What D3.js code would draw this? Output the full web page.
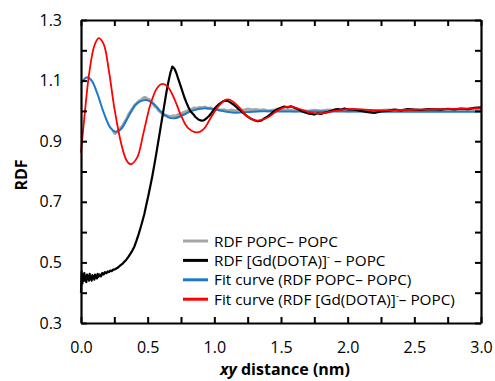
<!DOCTYPE html>
<html>
<head>
<meta charset="utf-8">
<script src="https://cdn.jsdelivr.net/npm/d3@7"></script>
<style>
  body { margin: 0; background: #fff; }
  svg { display: block; font-family: "Open Sans", sans-serif; }
</style>
</head>
<body>
<svg id="chart" width="495" height="381"></svg>
<script>
// =========================
// DADES
// =========================

// RDF POPC – POPC (gris, soroll)
const rdfPopcX = [0.240,0.255,0.270,0.285,0.300,0.315,0.330,0.345,0.360,0.375,0.390,0.405,0.420,0.435,0.450,0.465,0.480,0.495,0.510,0.525,0.540,0.555,0.570,0.585,0.600,0.615,0.630,0.650,0.670,0.690,0.710,0.730,0.750,0.770,0.790,0.810,0.830,0.850,0.870,0.890,0.910,0.930,0.950,0.970,0.990,1.010,1.040,1.070,1.100,1.130,1.160,1.190,1.220,1.250,1.280,1.310,1.340,1.370,1.400,1.450,1.500,1.550,1.600,1.650,1.700,1.750,1.800,1.850,1.900,1.950,2.000,2.100,2.200,2.300,2.400,2.500,2.600,2.700,2.800,2.900,3.000];
const rdfPopcY = [0.935,0.925,0.930,0.935,0.945,0.952,0.965,0.975,0.990,1.000,1.010,1.020,1.025,1.033,1.035,1.042,1.045,1.040,1.038,1.030,1.025,1.015,1.010,1.000,0.995,0.990,0.985,0.984,0.980,0.984,0.982,0.988,0.990,0.995,0.998,1.003,1.005,1.010,1.008,1.012,1.010,1.013,1.008,1.010,1.005,1.006,1.002,1.004,1.000,1.003,1.000,1.004,1.002,1.006,1.003,1.005,1.002,1.004,1.000,1.003,1.001,1.004,1.000,1.002,0.999,1.002,1.000,1.003,1.001,1.003,1.000,1.002,1.000,1.003,1.001,1.003,1.002,1.004,1.003,1.005,1.006];

// RDF [Gd(DOTA)]- – POPC (negre)
const rdfGdX = [0.000,0.005,0.010,0.015,0.020,0.025,0.030,0.035,0.040,0.045,0.050,0.055,0.060,0.065,0.070,0.075,0.080,0.085,0.090,0.095,0.100,0.105,0.110,0.115,0.120,0.125,0.130,0.140,0.150,0.160,0.170,0.180,0.190,0.200,0.210,0.220,0.230,0.240,0.250,0.265,0.280,0.295,0.310,0.325,0.340,0.355,0.370,0.385,0.400,0.415,0.430,0.445,0.460,0.475,0.490,0.505,0.520,0.535,0.550,0.565,0.580,0.595,0.610,0.625,0.640,0.655,0.670,0.685,0.700,0.715,0.730,0.745,0.760,0.775,0.790,0.805,0.820,0.840,0.860,0.880,0.900,0.920,0.940,0.960,0.980,1.000,1.020,1.040,1.060,1.080,1.100,1.120,1.140,1.160,1.180,1.200,1.225,1.250,1.275,1.300,1.325,1.350,1.375,1.400,1.425,1.450,1.475,1.500,1.525,1.550,1.575,1.600,1.625,1.650,1.675,1.700,1.725,1.750,1.775,1.800,1.825,1.850,1.875,1.900,1.925,1.950,1.975,2.000,2.050,2.100,2.150,2.200,2.250,2.300,2.350,2.400,2.450,2.500,2.550,2.600,2.650,2.700,2.750,2.800,2.850,2.900,2.950,3.000];
const rdfGdY = [0.400,0.470,0.430,0.460,0.440,0.465,0.440,0.455,0.435,0.460,0.445,0.455,0.440,0.462,0.445,0.452,0.440,0.458,0.447,0.455,0.443,0.460,0.450,0.456,0.447,0.462,0.452,0.460,0.454,0.465,0.460,0.468,0.464,0.470,0.468,0.473,0.471,0.476,0.476,0.480,0.484,0.490,0.495,0.502,0.509,0.518,0.528,0.539,0.552,0.570,0.590,0.612,0.635,0.660,0.690,0.720,0.752,0.785,0.822,0.860,0.900,0.940,0.980,1.020,1.060,1.095,1.125,1.146,1.140,1.125,1.105,1.085,1.065,1.045,1.028,1.013,1.000,0.990,0.979,0.972,0.968,0.969,0.975,0.983,0.994,1.006,1.016,1.024,1.030,1.034,1.033,1.028,1.022,1.015,1.007,1.000,0.990,0.981,0.974,0.969,0.966,0.968,0.975,0.982,0.990,1.000,1.006,1.010,1.014,1.012,1.015,1.010,1.006,1.000,0.996,0.992,0.990,0.988,0.992,0.990,0.994,0.996,1.000,1.004,1.006,1.004,1.008,1.005,1.004,1.000,0.996,0.993,0.998,1.000,1.004,1.002,1.006,1.004,1.003,1.006,1.005,1.004,1.007,1.005,1.008,1.006,1.010,1.012];

// Fit curve (RDF POPC – POPC) (blau)
const fitPopcX = [0.000,0.045,0.080,0.120,0.170,0.220,0.260,0.300,0.360,0.420,0.485,0.540,0.600,0.660,0.705,0.760,0.830,0.930,1.000,1.080,1.150,1.250,1.350,1.500,2.000,2.500,3.000];
const fitPopcY = [1.091,1.111,1.100,1.060,0.995,0.945,0.931,0.940,0.985,1.025,1.036,1.025,0.997,0.978,0.976,0.985,1.000,1.009,1.006,0.998,0.994,0.996,0.999,0.998,0.998,0.997,0.997];

// Fit curve (RDF [Gd(DOTA)]- – POPC) (vermell)
const fitGdX = [0.000,0.030,0.060,0.100,0.133,0.170,0.210,0.250,0.300,0.340,0.372,0.420,0.470,0.520,0.570,0.610,0.650,0.700,0.750,0.800,0.870,0.920,0.970,1.030,1.090,1.120,1.180,1.240,1.300,1.330,1.400,1.470,1.540,1.600,1.680,1.760,1.820,1.900,2.000,2.100,2.250,2.400,2.600,2.800,3.000];
const fitGdY = [0.862,1.000,1.120,1.215,1.240,1.220,1.130,1.010,0.895,0.838,0.824,0.845,0.930,1.020,1.075,1.089,1.080,1.040,0.985,0.945,0.929,0.940,0.975,1.015,1.037,1.036,1.015,0.985,0.969,0.968,0.978,1.000,1.013,1.012,1.000,0.992,0.993,1.000,1.006,1.005,1.002,1.003,1.005,1.007,1.009];

// Eixos
const xTicks = [0, 0.25, 0.5, 0.75, 1, 1.25, 1.5, 1.75, 2, 2.25, 2.5, 2.75, 3];
const xLabelled = [0, 0.5, 1, 1.5, 2, 2.5, 3];
const yTicks = [0.3, 0.4, 0.5, 0.6, 0.7, 0.8, 0.9, 1.0, 1.1, 1.2, 1.3];
const yLabelled = [0.3, 0.5, 0.7, 0.9, 1.1, 1.3];

const series = [
  { name: "popc", xs: rdfPopcX, ys: rdfPopcY, color: "#a6a6a6", width: 3, smooth: false },
  { name: "fitPopc", xs: fitPopcX, ys: fitPopcY, color: "#1f78c8", width: 2, smooth: true },
  { name: "gd", xs: rdfGdX, ys: rdfGdY, color: "#000000", width: 2.2, smooth: false },
  { name: "fitGd", xs: fitGdX, ys: fitGdY, color: "#ff0000", width: 1.8, smooth: true }
];

// =========================
// DIBUIX
// =========================

const svg = d3.select("#chart");
const margin = { top: 20, right: 14, bottom: 58, left: 81 };
const width = 495 - margin.left - margin.right;
const height = 381 - margin.top - margin.bottom;

const g = svg.append("g").attr("transform", `translate(${margin.left},${margin.top})`);

const x = d3.scaleLinear().domain([0, 3]).range([0, width]);
const y = d3.scaleLinear().domain([0.3, 1.3]).range([height, 0]);

const isIn = (arr, v) => arr.some(a => Math.abs(a - v) < 1e-9);

// línies
series.forEach(s => {
  const pts = s.xs.map((xv, i) => [xv, s.ys[i]]);
  const line = d3.line()
    .x(d => x(d[0]))
    .y(d => y(d[1]))
    .curve(s.smooth ? d3.curveCatmullRom.alpha(0.5) : d3.curveLinear);
  g.append("path")
    .datum(pts)
    .attr("fill", "none")
    .attr("stroke", s.color)
    .attr("stroke-width", s.width)
    .attr("stroke-linejoin", "round")
    .attr("d", line);
});

// eixos (ticks cap a dins)
function styleAxis(sel) {
  sel.select(".domain").attr("stroke", "#000").attr("stroke-width", 2.2);
  sel.selectAll(".tick line").attr("stroke", "#000").attr("stroke-width", 2);
  sel.selectAll(".tick text")
    .style("font-family", "'Open Sans', sans-serif")
    .style("font-size", "16px")
    .attr("fill", "#000");
}

g.append("g")
  .attr("transform", `translate(0,${height})`)
  .call(d3.axisBottom(x).tickValues(xTicks).tickSize(-6).tickSizeOuter(0).tickPadding(19)
    .tickFormat(d => isIn(xLabelled, d) ? d.toFixed(1) : ""))
  .call(styleAxis);

g.append("g")
  .call(d3.axisTop(x).tickValues(xTicks).tickSize(-6).tickSizeOuter(0).tickFormat(""))
  .call(styleAxis);

g.append("g")
  .call(d3.axisLeft(y).tickValues(yTicks).tickSize(-6).tickSizeOuter(0).tickPadding(19)
    .tickFormat(d => isIn(yLabelled, d) ? d.toFixed(1) : ""))
  .call(styleAxis);

g.append("g")
  .attr("transform", `translate(${width},0)`)
  .call(d3.axisRight(y).tickValues(yTicks).tickSize(-6).tickSizeOuter(0).tickFormat(""))
  .call(styleAxis);

// títols d'eixos
svg.append("text")
  .attr("transform", "translate(27,175) rotate(-90)")
  .attr("text-anchor", "middle")
  .style("font-size", "16px")
  .style("font-weight", "bold")
  .text("RDF");

const xTitle = svg.append("text")
  .attr("x", 285)
  .attr("y", 375)
  .attr("text-anchor", "middle")
  .style("font-size", "16px")
  .style("font-weight", "bold");
xTitle.append("tspan").style("font-style", "italic").text("xy");
xTitle.append("tspan").text(" distance (nm)");

// =========================
// LLEGENDA
// =========================

const legendItems = [
  { color: "#a6a6a6", parts: ["RDF POPC\u2013 POPC"] },
  { color: "#000000", parts: ["RDF [Gd(DOTA)]", "-", " \u2013 POPC"] },
  { color: "#1f78c8", parts: ["Fit curve (RDF POPC\u2013 POPC)"] },
  { color: "#ff0000", parts: ["Fit curve (RDF [Gd(DOTA)]", "-", "\u2013 POPC)"] }
];

const legend = svg.append("g").attr("transform", "translate(183,241)");

legendItems.forEach((it, i) => {
  const row = legend.append("g").attr("transform", `translate(0,${i * 19.4})`);
  row.append("line")
    .attr("x1", 0).attr("x2", 25)
    .attr("stroke", it.color)
    .attr("stroke-width", 3);
  const t = row.append("text")
    .attr("x", 31)
    .attr("y", 5.5)
    .style("font-size", "15.3px");
  it.parts.forEach((p, j) => {
    const ts = t.append("tspan").text(p);
    if (j === 1) ts.attr("dy", -6).style("font-size", "9px");
    if (j === 2) ts.attr("dy", 6);
  });
});
</script>
</body>
</html>
